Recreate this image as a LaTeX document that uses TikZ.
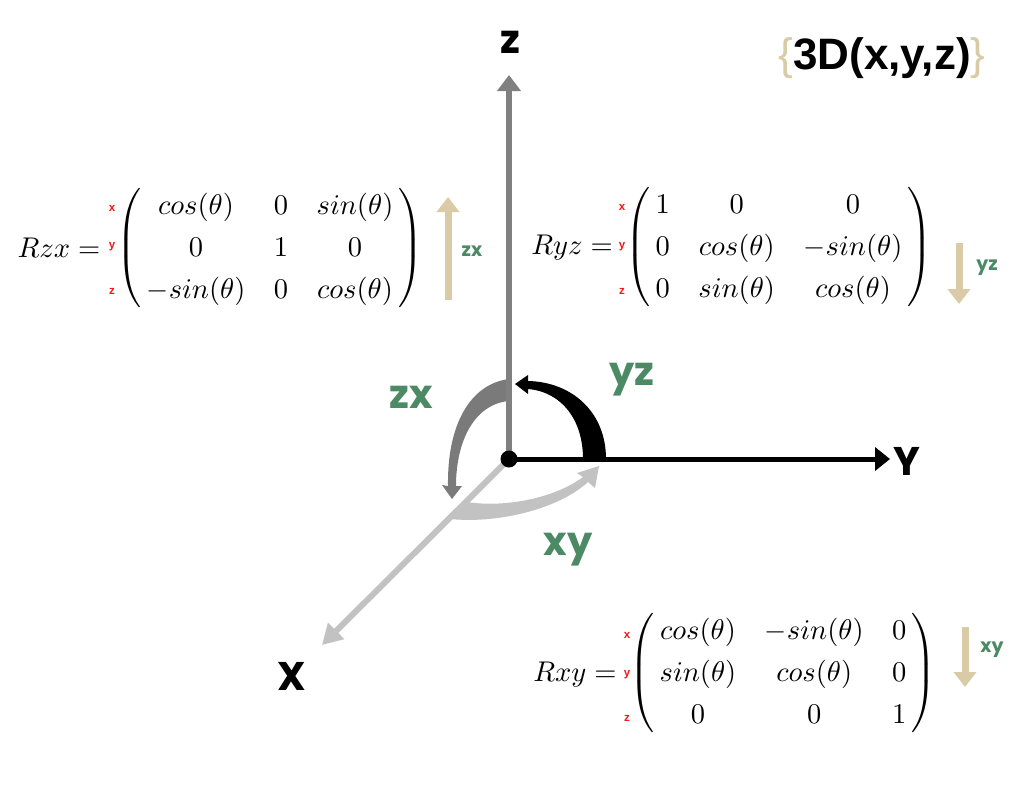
\documentclass[tikz,border=0pt]{standalone}
\usepackage{amsmath}
\usepackage{fontspec}
\newfontfamily\pop{Poppins}
\newfontfamily\lib{Liberation Sans}
\usetikzlibrary{arrows.meta}
\definecolor{lblgreen}{HTML}{4B8A65}
\definecolor{tanc}{HTML}{D8CBA6}
\definecolor{axdark}{HTML}{808080}
\definecolor{arcdark}{HTML}{7A7A7A}
\definecolor{axlight}{HTML}{C2C2C2}
\definecolor{redl}{HTML}{F01818}
\begin{document}
\begin{tikzpicture}[x=1pt,y=-1pt,
  axlbl/.style={font=\pop\bfseries\fontsize{40}{48}\selectfont, inner sep=0pt},
  greenlbl/.style={axlbl, text=lblgreen},
  smallgreen/.style={font=\pop\bfseries\fontsize{19}{22}\selectfont, text=lblgreen, inner sep=0pt},
  redlbl/.style={font=\lib\bfseries\fontsize{11.5}{13}\selectfont, text=redl, inner sep=0pt},
  mat/.style={scale=2.85, inner sep=0pt},
  tanarrow/.style={draw=tanc, line width=7pt, -{Triangle[length=15pt,width=22pt]}},
  titlef/.style={font=\lib\fontsize{44}{52}\selectfont, inner sep=0pt}
]
\useasboundingbox (0,0) rectangle (1024,795);
\fill[white] (0,0) rectangle (1024,795);

% coordinates
\coordinate (o) at (509,459);
\coordinate (ztip) at (509,75);
\coordinate (ytip) at (890,459);
\coordinate (xtip) at (322,645);

% xy arc (light gray)
\fill[axlight] (450,519) .. controls (500,524) and (560,508) .. (588,482)
  -- (595,488) -- (599,466) -- (577,473) -- (583,477)
  .. controls (555,498) and (505,508) .. (467,502) -- cycle;

% X axis
\draw[axlight, line width=6pt, -{Triangle[length=20pt,width=22pt]}] (o) -- (xtip);

% zx arc (gray)
\fill[arcdark] (509,379) .. controls (470,384) and (447,425) .. (448,486)
  -- (442,485) -- (452,499) -- (462,486) -- (456,486)
  .. controls (456,440) and (475,404) .. (509,401) -- cycle;

% Z axis
\draw[axdark, line width=6pt, -{Triangle[length=16pt,width=23pt]}] (o) -- (ztip);

% yz arc (black)
\fill[black] (606,459) .. controls (606,412) and (572,382) .. (528,381)
  -- (528,375) -- (515,384) -- (528,394) -- (528,389)
  .. controls (562,392) and (583,420) .. (583,459) -- cycle;

% Y axis
\draw[black, line width=5pt, -{Triangle[length=15pt,width=23pt]}] (o) -- (ytip);

% origin dot
\fill[black] (o) circle (8.5);

% axis labels
\node[axlbl] (zl) at (510,42) {z};
\node[axlbl] (yl) at (907,461) {Y};
\node[axlbl] (xl) at (292,676) {X};

% plane labels
\node[greenlbl] (zxl) at (411,397) {zx};
\node[greenlbl] (yzl) at (632,380) {yz};
\node[greenlbl] (xyl) at (568,550) {xy};

% title
\node[titlef] (title) at (882,58) {\textcolor{tanc}{\{}\bfseries 3D(x,y,z)\mdseries\textcolor{tanc}{\}}};

% tan arrows
\coordinate (zxa) at (448,300);
\coordinate (zxb) at (448,197);
\draw[tanarrow] (zxa) -- (zxb);
\node[smallgreen] (zxs) at (472,251) {zx};

\coordinate (yza) at (959,243);
\coordinate (yzb) at (959,304);
\draw[tanarrow] (yza) -- (yzb);
\node[smallgreen] (yzs) at (987,268) {yz};

\coordinate (xya) at (965,627);
\coordinate (xyb) at (965,687);
\draw[tanarrow] (xya) -- (xyb);
\node[smallgreen] (xys) at (992,650) {xy};

% matrices
\node[mat] (lzx) at (59,248) {$Rzx=$};
\node[redlbl] (rzx1) at (112,208) {x};
\node[redlbl] (rzx2) at (112,247) {y};
\node[redlbl] (rzx3) at (112,291) {z};
\node[mat] (mzx) at (270,248) {\def\arraystretch{1.23}$\left(\,\begin{matrix} cos(\theta) & 0 & sin(\theta)\\ 0 & 1 & 0\\ -sin(\theta) & 0 & cos(\theta)\end{matrix}\,\right)$};

\node[mat] (lyz) at (572,248) {$Ryz=$};
\node[redlbl] (ryz1) at (622,207) {x};
\node[redlbl] (ryz2) at (622,247) {y};
\node[redlbl] (ryz3) at (622,291) {z};
\node[mat] (myz) at (779,247) {\def\arraystretch{1.23}$\left(\,\begin{matrix} 1 & 0 & 0\\ 0 & cos(\theta) & -sin(\theta)\\ 0 & sin(\theta) & cos(\theta)\end{matrix}\,\right)$};

\node[mat] (lxy) at (575,675) {$Rxy=$};
\node[redlbl] (rxy1) at (627,635) {x};
\node[redlbl] (rxy2) at (627,675) {y};
\node[redlbl] (rxy3) at (627,718) {z};
\node[mat] (mxy) at (783,673) {\def\arraystretch{1.23}$\left(\,\begin{matrix} cos(\theta) & -sin(\theta) & 0\\ sin(\theta) & cos(\theta) & 0\\ 0 & 0 & 1\end{matrix}\,\right)$};
\end{tikzpicture}
\end{document}
